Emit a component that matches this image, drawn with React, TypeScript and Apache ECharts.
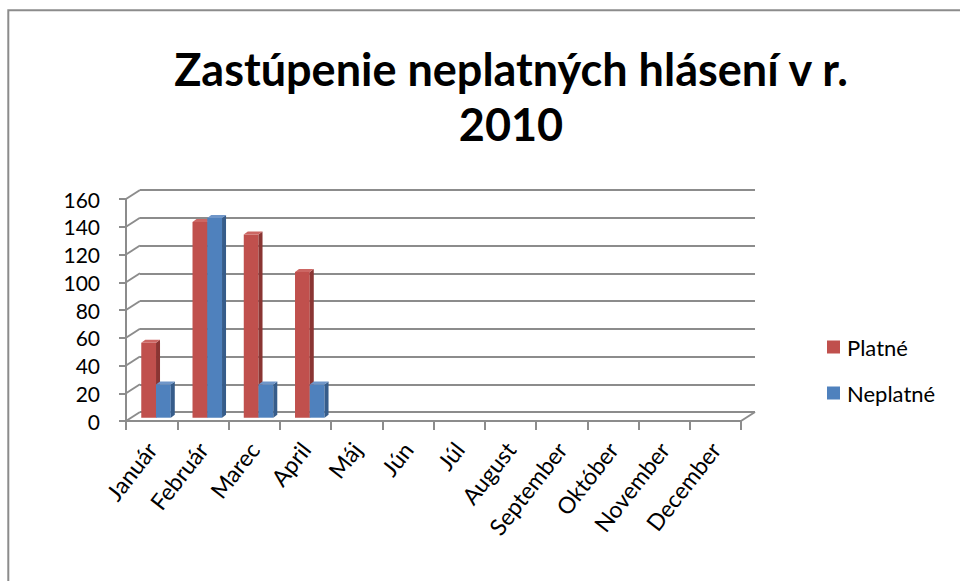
import React, { useEffect, useRef } from "react";
import * as echarts from "echarts";

const titleText = "Zastúpenie neplatných hlásení v r.\n2010";
const months = ["Január", "Február", "Marec", "April", "Máj", "Jún", "Júl", "August", "September", "Október", "November", "December"];
const seriesNames = ["Platné", "Neplatné"];
const platne: (number | null)[] = [54, 141, 132, 105, null, null, null, null, null, null, null, null];
const neplatne: (number | null)[] = [24, 144, 24, 24, null, null, null, null, null, null, null, null];
const yTicks = [0, 20, 40, 60, 80, 100, 120, 140, 160];

const FONT = "Lato";
const GRAY = "#8c8c8c";
const DX = 14;
const DY = -9;

const palette = [
  { front: "#C0504D", side: "#8A3533", top: "#CC6663" },
  { front: "#4F81BD", side: "#365C8A", top: "#6F96C9" },
];

function makeBarRender(which: number) {
  return (params: any, api: any) => {
    const idx = api.value(0);
    const val = api.value(1);
    if (val == null || isNaN(val)) return null;
    const base = api.coord([idx, 0]);
    const top = api.coord([idx, val]);
    const bw = api.size([1, 0])[0] * 0.288;
    const x0 = which === 0 ? base[0] - bw : base[0];
    const x1 = x0 + bw;
    const d = 4;
    const e = 3;
    const c = palette[which];
    return {
      type: "group",
      children: [
        { type: "rect", shape: { x: x0, y: top[1], width: bw, height: base[1] - top[1] }, style: { fill: c.front } },
        { type: "polygon", shape: { points: [[x1, top[1]], [x1 + d, top[1] - e], [x1 + d, base[1] - e], [x1, base[1]]] }, style: { fill: c.side } },
        { type: "polygon", shape: { points: [[x0, top[1]], [x0 + d, top[1] - e], [x1 + d, top[1] - e], [x1, top[1]]] }, style: { fill: c.top } },
      ],
    };
  };
}

export default function App() {
  const ref = useRef<HTMLDivElement>(null);
  useEffect(() => {
    if (!ref.current) return;
    const chart = echarts.init(ref.current, undefined, { renderer: "svg" });
    const option: any = {
      animation: false,
      backgroundColor: "#fff",
      title: {
        text: titleText,
        left: 506,
        top: 36,
        textAlign: "center",
        textStyle: { fontFamily: FONT, fontSize: 45, fontWeight: "bold", color: "#000", lineHeight: 55 },
      },
      legend: {
        orient: "vertical",
        left: 822,
        top: 331,
        itemWidth: 13,
        itemHeight: 13,
        itemGap: 24,
        icon: "rect",
        data: seriesNames,
        textStyle: { fontFamily: FONT, fontSize: 22, color: "#000", padding: [0, 0, 0, 2] },
      },
      grid: [
        { left: 140, top: 190, width: 615, height: 222 },
        { left: 126, top: 199, width: 615, height: 222 },
        { left: 130.4, top: 195.7, width: 615, height: 222 },
      ],
      xAxis: [
        { gridIndex: 0, type: "category", data: months, show: false },
        {
          gridIndex: 1,
          type: "category",
          data: months,
          boundaryGap: true,
          axisLine: { show: true, lineStyle: { color: GRAY, width: 2 } },
          axisTick: { show: true, length: 9, lineStyle: { color: GRAY, width: 2 } },
          axisLabel: { interval: 0, rotate: 52, hideOverlap: false, fontFamily: FONT, fontSize: 23, color: "#000", margin: 24 },
          splitLine: { show: false },
        },
        { gridIndex: 2, type: "category", data: months, show: false },
      ],
      yAxis: [
        {
          gridIndex: 0,
          type: "value",
          min: 0,
          max: 160,
          interval: 20,
          axisLine: { show: false },
          axisTick: { show: false },
          axisLabel: { show: false },
          splitLine: { show: true, lineStyle: { color: GRAY, width: 2 } },
        },
        {
          gridIndex: 1,
          type: "value",
          min: 0,
          max: 160,
          interval: 20,
          axisLine: { show: true, lineStyle: { color: GRAY, width: 2 } },
          axisTick: { show: true, length: 7, lineStyle: { color: GRAY, width: 2 } },
          axisLabel: { fontFamily: FONT, fontSize: 21, color: "#000", margin: 26 },
          splitLine: { show: false },
        },
        { gridIndex: 2, type: "value", min: 0, max: 160, interval: 20, show: false, splitLine: { show: false } },
      ],
      graphic: [
        {
          type: "rect",
          shape: { x: 8.3, y: 10.3, width: 1200, height: 1000 },
          style: { fill: "none", stroke: GRAY, lineWidth: 2 },
          silent: true,
        },
      ],
      series: [
        {
          type: "custom",
          name: "frame",
          xAxisIndex: 1,
          yAxisIndex: 1,
          silent: true,
          legendHoverLink: false,
          data: yTicks.map((v) => [0, v]),
          encode: { x: 0, y: 1 },
          renderItem: (params: any, api: any) => {
            const v = api.value(1);
            const p = api.coord([0, v]);
            const cs = params.coordSys;
            const left = cs.x;
            const children: any[] = [
              { type: "line", shape: { x1: left, y1: p[1], x2: left + DX, y2: p[1] + DY }, style: { stroke: GRAY, lineWidth: 2 } },
            ];
            if (v === 0) {
              const right = cs.x + cs.width;
              children.push({ type: "line", shape: { x1: right, y1: p[1], x2: right + DX, y2: p[1] + DY }, style: { stroke: GRAY, lineWidth: 2 } });
            }
            return { type: "group", children };
          },
          z: 1,
        },
        {
          type: "custom",
          name: seriesNames[0],
          xAxisIndex: 2,
          yAxisIndex: 2,
          itemStyle: { color: palette[0].front },
          data: platne.map((v, i) => [i, v]),
          encode: { x: 0, y: 1 },
          renderItem: makeBarRender(0),
          z: 3,
        },
        {
          type: "custom",
          name: seriesNames[1],
          xAxisIndex: 2,
          yAxisIndex: 2,
          itemStyle: { color: palette[1].front },
          data: neplatne.map((v, i) => [i, v]),
          encode: { x: 0, y: 1 },
          renderItem: makeBarRender(1),
          z: 3,
        },
      ],
    };
    chart.setOption(option);
    return () => chart.dispose();
  }, []);
  return <div ref={ref} style={{ position: "absolute", left: 0, top: 0, width: 960, height: 581 }} />;
}
